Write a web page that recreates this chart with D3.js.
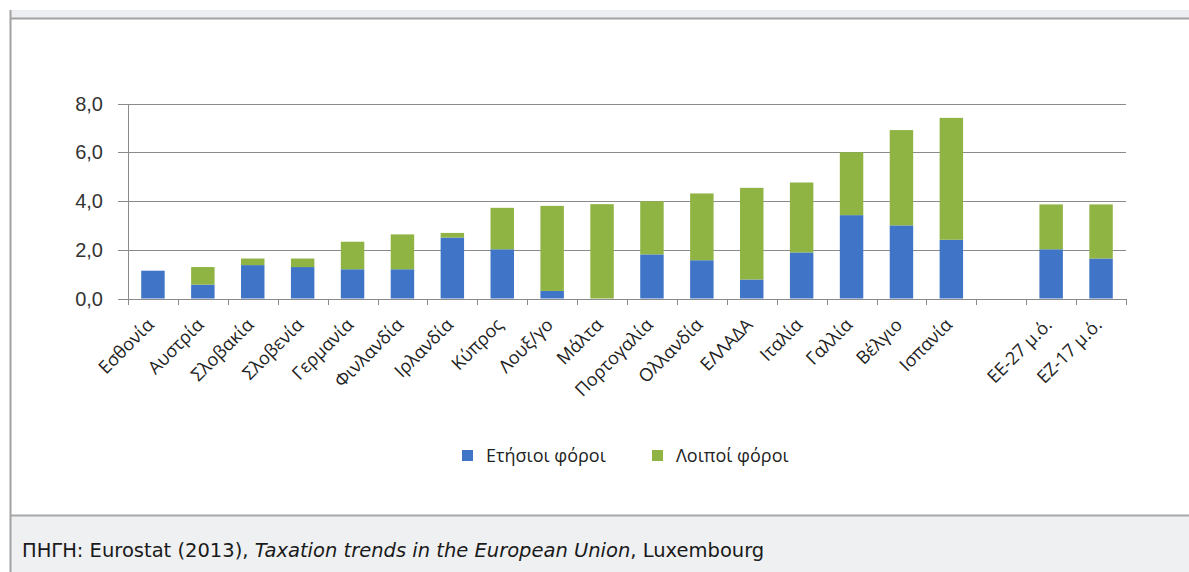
<!DOCTYPE html>
<html>
<head>
<meta charset="utf-8">
<script src="https://cdn.jsdelivr.net/npm/d3@7"></script>
<style>
  html, body { margin: 0; padding: 0; background: #fff; }
  svg { display: block; }
</style>
</head>
<body>
<svg id="chart" width="1189" height="572"></svg>
<script>
// ---- data ----
const categories = ["Εσθονία","Αυστρία","Σλοβακία","Σλοβενία","Γερμανία","Φινλανδία","Ιρλανδία","Κύπρος","Λουξ/γο","Μάλτα","Πορτογαλία","Ολλανδία","ΕΛΛΑΔΑ","Ιταλία","Γαλλία","Βέλγιο","Ισπανία","","ΕΕ-27 μ.ό.","ΕΖ-17 μ.ό."];
const annualTaxes = [1.14,0.57,1.37,1.29,1.20,1.20,2.50,2.02,0.31,0.00,1.81,1.57,0.78,1.89,3.42,3.00,2.41,null,2.02,1.64];
const otherTaxes  = [0.00,0.72,0.27,0.35,1.13,1.43,0.19,1.70,3.49,3.87,2.18,2.74,3.76,2.87,2.58,3.91,5.00,null,1.84,2.22];
const seriesNames = ["Ετήσιοι φόροι","Λοιποί φόροι"];
const yTicks = [0,2,4,6,8];
const sourceNote = ["ΠΗΓΗ: Eurostat (2013), ", "Taxation trends in the European Union", ", Luxembourg"];

const colors = ["#3f74c6", "#8fb443"];
const svg = d3.select("#chart");
const W = 1189, H = 572;

// frame
svg.append("rect").attr("x",0).attr("y",0).attr("width",W).attr("height",H).attr("fill","#fff");
svg.append("rect").attr("x",10).attr("y",10).attr("width",W-10).attr("height",8).attr("fill","#eceef2");
svg.append("rect").attr("x",10).attr("y",516).attr("width",W-10).attr("height",H-516).attr("fill","#eff0f2");
svg.append("line").attr("x1",10).attr("x2",W).attr("y1",18.5).attr("y2",18.5).attr("stroke","#a2a2a2").attr("stroke-width",2);
svg.append("line").attr("x1",10).attr("x2",W).attr("y1",515.5).attr("y2",515.5).attr("stroke","#a8a8a8").attr("stroke-width",2);
svg.append("line").attr("x1",10.5).attr("x2",10.5).attr("y1",10).attr("y2",H).attr("stroke","#a2a2a2").attr("stroke-width",2);

const plotLeft = 128, plotRight = 1126, plotTop = 103.5, plotBottom = 298.5;
const idx = categories.map((d,i)=>i);
const x = d3.scaleBand().domain(idx).range([plotLeft, plotRight]).paddingInner(0.53).paddingOuter(0.265);
const y = d3.scaleLinear().domain([0,8]).range([plotBottom, plotTop]);

// gridlines
svg.append("g").selectAll("line").data(yTicks).join("line")
  .attr("x1", plotLeft-10).attr("x2", plotRight)
  .attr("y1", d=>Math.round(y(d))+0.5).attr("y2", d=>Math.round(y(d))+0.5)
  .attr("stroke","#8a8a8a").attr("stroke-width",1);
// y axis line
svg.append("line").attr("x1",plotLeft+0.5).attr("x2",plotLeft+0.5).attr("y1",Math.round(plotTop)).attr("y2",Math.round(plotBottom)+0.5)
  .attr("stroke","#8a8a8a");
// x ticks at slot boundaries
const step = (plotRight-plotLeft)/categories.length;
const bounds = d3.range(categories.length+1).map(i=>plotLeft + i*step);
svg.append("g").selectAll("line").data(bounds).join("line")
  .attr("x1", d=>Math.round(d)+0.5).attr("x2", d=>Math.round(d)+0.5)
  .attr("y1", Math.round(plotBottom)).attr("y2", Math.round(plotBottom)+6)
  .attr("stroke","#8a8a8a");

// y labels
const fmt = d => d.toFixed(1).replace(".", ",");
svg.append("g").selectAll("text").data(yTicks).join("text")
  .attr("x", 103).attr("y", d=>y(d)).attr("dy","0.35em")
  .attr("text-anchor","end")
  .attr("font-family","'Liberation Sans', Arial, sans-serif").attr("font-size",20)
  .attr("fill","#333")
  .text(fmt);

// stacked bars
const stackData = idx.map(i => ({i, a: annualTaxes[i], o: otherTaxes[i]})).filter(d => d.a !== null);
const stack = d3.stack().keys(["a","o"])(stackData);
svg.append("g").selectAll("g").data(stack).join("g")
  .attr("fill", (d,k)=>colors[k])
  .selectAll("rect").data(d=>d).join("rect")
  .attr("x", d=>x(d.data.i)).attr("width", x.bandwidth())
  .attr("y", d=>y(d[1])).attr("height", d=>Math.max(0, y(d[0])-y(d[1])));

// x labels
svg.append("g").selectAll("text").data(idx.filter(i=>categories[i]!=="")).join("text")
  .attr("transform", i=>`translate(${x(i)+x.bandwidth()/2+2},${326}) rotate(-45)`)
  .attr("text-anchor","end")
  .attr("font-family","'Open Sans', 'Liberation Sans', sans-serif").attr("font-size",18)
  .attr("fill","#222")
  .text(i=>categories[i]);

// legend
const lg = svg.append("g").attr("font-family","'Open Sans', 'Liberation Sans', sans-serif").attr("font-size",18).attr("fill","#222");
const legendX = [462, 652];
seriesNames.forEach((n,k)=>{
  lg.append("rect").attr("x",legendX[k]).attr("y",450).attr("width",11).attr("height",11).attr("fill",colors[k]);
  lg.append("text").attr("x",legendX[k]+24).attr("y",456).attr("dy","0.35em").text(n);
});

// source note
const t = svg.append("text").attr("x",22).attr("y",557)
  .attr("font-family","'DejaVu Sans', Verdana, sans-serif").attr("font-size",19.5).attr("fill","#1a1a1a");
t.append("tspan").text(sourceNote[0]);
t.append("tspan").attr("font-style","italic").text(sourceNote[1]);
t.append("tspan").text(sourceNote[2]);
</script>
</body>
</html>
